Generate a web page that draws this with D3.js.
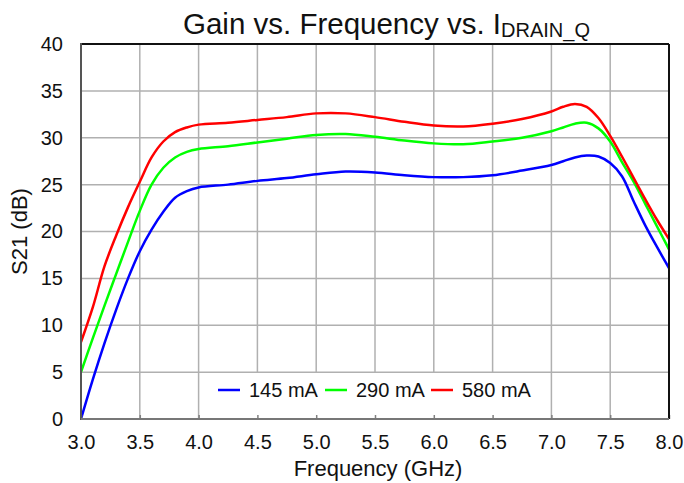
<!DOCTYPE html>
<html><head><meta charset="utf-8">
<script src="https://cdn.jsdelivr.net/npm/d3@7"></script>
<style>html,body{margin:0;padding:0;background:#fff;}svg{display:block;font-family:"Liberation Sans",Arial,sans-serif;}</style>
</head><body><svg id="c" width="684" height="483"></svg>
<script>
const freq = [3.0,3.1,3.2,3.3,3.4,3.5,3.6,3.7,3.8,3.9,4.0,4.25,4.5,4.75,5.0,5.25,5.5,5.75,6.0,6.25,6.5,6.75,7.0,7.1,7.2,7.3,7.4,7.5,7.6,7.7,7.8,7.9,8.0];
const s145 = [0,4.2,8.1,11.7,15.0,17.9,20.2,22.1,23.6,24.3,24.7,25.0,25.4,25.7,26.1,26.4,26.3,26.0,25.8,25.8,26.0,26.5,27.1,27.5,27.9,28.1,28.0,27.3,25.9,23.2,20.6,18.3,16.1];
const s290 = [5.0,8.6,12.1,15.5,18.9,22.2,25.0,26.8,27.9,28.5,28.8,29.1,29.5,29.9,30.3,30.4,30.1,29.7,29.4,29.3,29.6,30.0,30.7,31.1,31.5,31.6,31.0,29.6,27.4,25.3,22.9,20.5,18.1];
const s580 = [8.2,11.9,16.3,19.6,22.6,25.3,27.9,29.6,30.6,31.1,31.4,31.6,31.9,32.2,32.6,32.6,32.2,31.7,31.3,31.2,31.5,32.0,32.8,33.3,33.6,33.3,32.1,30.2,28.0,25.7,23.4,21.2,19.2];
const seriesNames = ["145 mA","290 mA","580 mA"];
const seriesColors = ["#0000ff","#00ff00","#ff0000"];
const xTicks = [3.0,3.5,4.0,4.5,5.0,5.5,6.0,6.5,7.0,7.5,8.0];
const yTicks = [0,5,10,15,20,25,30,35,40];

const svg = d3.select("#c");
const L=81, R=669, T=44, B=419;
const x = d3.scaleLinear().domain([3,8]).range([L,R]);
const y = d3.scaleLinear().domain([0,40]).range([B,T]);

// gridlines
const g = svg.append("g");
g.selectAll(".vg").data(xTicks.slice(1,-1)).enter().append("line")
 .attr("x1",d=>x(d)).attr("x2",d=>x(d)).attr("y1",T).attr("y2",B)
 .attr("stroke","#b0b0b0").attr("stroke-width",1.5);
g.selectAll(".hg").data(yTicks.slice(1,-1)).enter().append("line")
 .attr("x1",L).attr("x2",R).attr("y1",d=>y(d)).attr("y2",d=>y(d))
 .attr("stroke","#b0b0b0").attr("stroke-width",1.5);

// series
const data = [s145,s290,s580];
const line = d3.line().x((d,i)=>x(freq[i])).y(d=>y(d)).curve(d3.curveCatmullRom.alpha(0.5));
svg.append("defs").append("clipPath").attr("id","clp").append("rect").attr("x",L).attr("y",T).attr("width",R-L).attr("height",B-T);
data.forEach((s,k)=>{
  svg.append("path").datum(s).attr("d",line).attr("fill","none")
   .attr("stroke",seriesColors[k]).attr("stroke-width",2.5).attr("clip-path","url(#clp)");
});

// legend box
const lg = svg.append("g");
lg.append("rect").attr("x",213).attr("y",373).attr("width",324).attr("height",45).attr("fill","#fff");
const lx = [218,325,431];
seriesNames.forEach((n,k)=>{
  lg.append("line").attr("x1",lx[k]).attr("x2",lx[k]+22).attr("y1",390).attr("y2",390)
    .attr("stroke",seriesColors[k]).attr("stroke-width",2.5);
  lg.append("text").attr("x",lx[k]+31).attr("y",397).attr("font-size",20).attr("fill","#111").text(n);
});

// axes
const xa = svg.append("g").attr("transform",`translate(0,${B})`)
 .call(d3.axisBottom(x).tickValues(xTicks).tickFormat(d3.format(".1f")).tickSizeInner(-4).tickSizeOuter(0).tickPadding(16));
xa.select(".domain").remove();
xa.selectAll("line").attr("stroke","#808080").attr("stroke-width",1.5);
xa.selectAll("text").attr("font-size",20).attr("fill","#111").attr("font-family","Liberation Sans, Arial, sans-serif");
const ya = svg.append("g").attr("transform",`translate(${L},0)`)
 .call(d3.axisLeft(y).tickValues(yTicks).tickSizeInner(0).tickSizeOuter(0).tickPadding(18));
ya.select(".domain").remove();
ya.selectAll("text").attr("font-size",20).attr("fill","#111").attr("font-family","Liberation Sans, Arial, sans-serif");

// frame
svg.append("line").attr("x1",L).attr("x2",R).attr("y1",T).attr("y2",T).attr("stroke","#111").attr("stroke-width",2);
svg.append("line").attr("x1",R).attr("x2",R).attr("y1",T).attr("y2",B).attr("stroke","#111").attr("stroke-width",2);
svg.append("line").attr("x1",L).attr("x2",L).attr("y1",T-1).attr("y2",B+1).attr("stroke","#555").attr("stroke-width",2);
svg.append("line").attr("x1",L).attr("x2",R).attr("y1",B).attr("y2",B).attr("stroke","#777").attr("stroke-width",2);

// titles
const t = svg.append("text").attr("x",183).attr("y",34).attr("font-size",29.5).attr("fill","#111");
t.append("tspan").text("Gain vs. Frequency vs. I");
t.append("tspan").attr("font-size",20).attr("dy",3).text("DRAIN_Q");
svg.append("text").attr("x",(L+R)/2+3).attr("y",476).attr("text-anchor","middle").attr("font-size",22).attr("fill","#111").text("Frequency (GHz)");
svg.append("text").attr("transform",`translate(27,${(T+B)/2}) rotate(-90)`).attr("text-anchor","middle").attr("font-size",22).attr("fill","#111").text("S21 (dB)");
</script></body></html>
